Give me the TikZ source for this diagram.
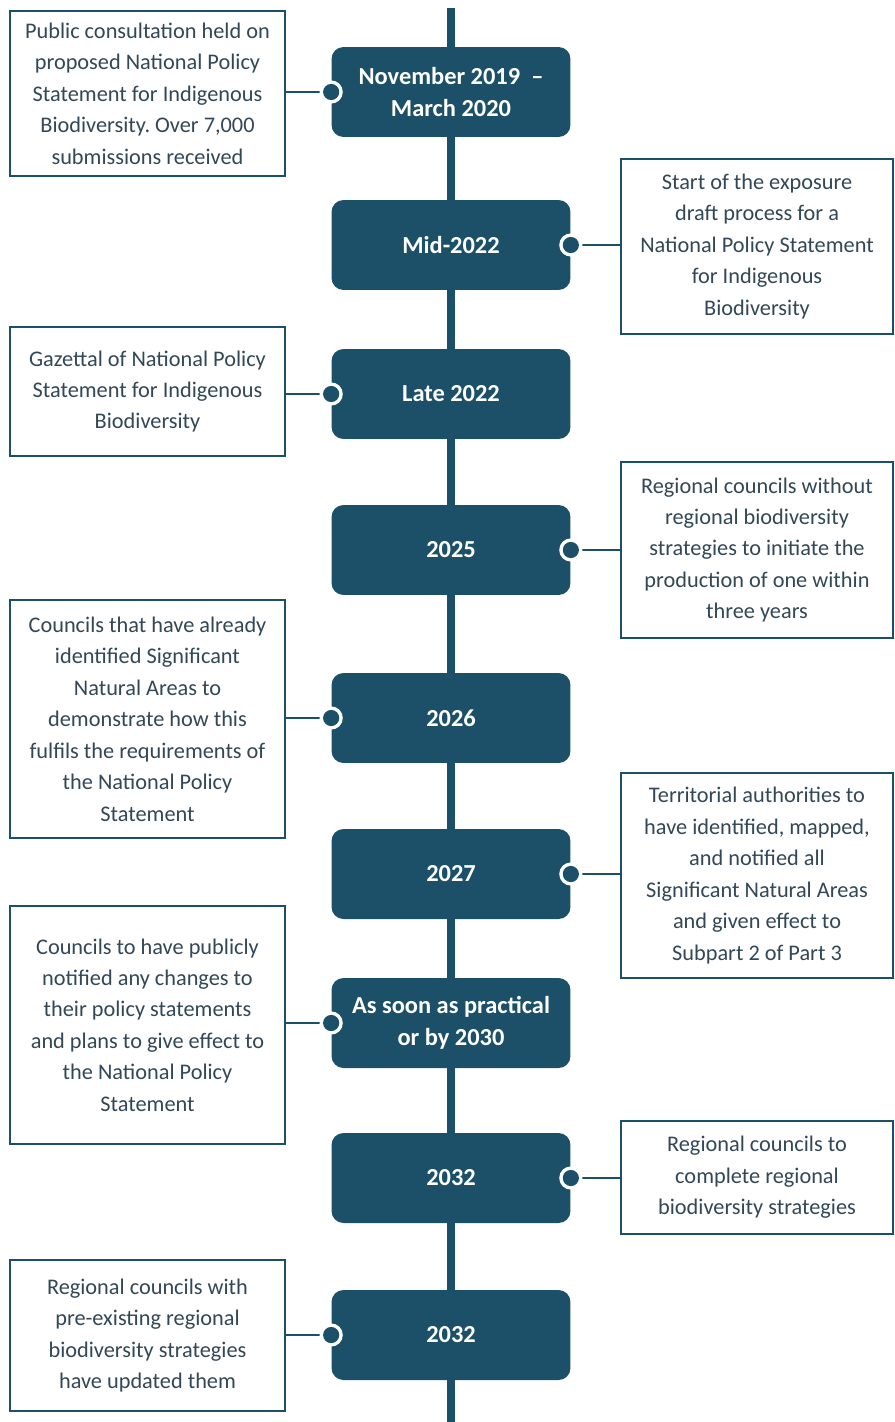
\documentclass[tikz,border=0pt]{standalone}
\usepackage{fontspec}
\setmainfont{Carlito}
\usepackage{tikz}
\usetikzlibrary{positioning}
\frenchspacing

\definecolor{spine}{RGB}{27,80,104}
\definecolor{boxtext}{RGB}{50,72,86}

\tikzset{
  datebox/.style={rectangle, rounded corners=6.8pt, fill=spine, text=white,
    minimum width=4.78cm, minimum height=1.8cm, align=center,
    font=\fontsize{13.9pt}{18pt}\selectfont\bfseries},
  notebox/.style={rectangle, draw=spine, line width=0.9pt, text=boxtext,
    fill=white, align=center, inner sep=0pt,
    font=\fontsize{12.7pt}{17.9pt}\selectfont},
  leftnote/.style={notebox, minimum width=5.5cm},
  rightnote/.style={notebox, minimum width=5.44cm},
  link/.style={draw=spine, line width=1.1pt}
}

% white ring with a dark dot on the edge of a date box
\newcommand{\pin}[1]{%
  \fill[white] (#1) circle (6.6pt);
  \fill[spine] (#1) circle (4.6pt);}

\begin{document}
\begin{tikzpicture}[x=0.02cm, y=-0.02cm]
  \useasboundingbox (0,0) rectangle (894,1422);

  % Time line
  \coordinate (top) at (451,8);
  \coordinate (bottom) at (451,1422);
  \draw[spine, line width=4pt] (top) -- (bottom);

  % Dates
  \node[datebox] (d1) at (451,92) {November 2019 \ --\\March 2020};
  \node[datebox] (d2) at (451,245) {Mid-2022};
  \node[datebox] (d3) at (451,394) {Late 2022};
  \node[datebox] (d4) at (451,550) {2025};
  \node[datebox] (d5) at (451,718) {2026};
  \node[datebox] (d6) at (451,874) {2027};
  \node[datebox] (d7) at (451,1023) {As soon as practical\\or by 2030};
  \node[datebox] (d8) at (451,1178) {2032};
  \node[datebox] (d9) at (451,1335) {2032};

  % Notes on the left
  \node[leftnote, minimum height=3.3cm] (n1) at (147.5,93.5)
    {Public consultation held on\\proposed National Policy\\Statement for Indigenous\\Biodiversity. Over 7,000\\submissions received};
  \node[leftnote, minimum height=2.58cm] (n3) at (147.5,391.5)
    {Gazettal of National Policy\\Statement for Indigenous\\Biodiversity};
  \node[leftnote, minimum height=4.76cm] (n5) at (147.5,719)
    {Councils that have already\\identified Significant\\Natural Areas to\\demonstrate how this\\fulfils the requirements of\\the National Policy\\Statement};
  \node[leftnote, minimum height=4.76cm] (n7) at (147.5,1025)
    {Councils to have publicly\\notified any changes to\\their policy statements\\and plans to give effect to\\the National Policy\\Statement};
  \node[leftnote, minimum height=3.02cm] (n9) at (147.5,1335.5)
    {Regional councils with\\pre-existing regional\\biodiversity strategies\\have updated them};

  % Notes on the right
  \node[rightnote, minimum height=3.5cm] (n2) at (757,246.5)
    {Start of the exposure\\draft process for a\\National Policy Statement\\for Indigenous\\Biodiversity};
  \node[rightnote, minimum height=3.52cm] (n4) at (757,550)
    {Regional councils without\\regional biodiversity\\strategies to initiate the\\production of one within\\three years};
  \node[rightnote, minimum height=4.1cm] (n6) at (757,875.5)
    {Territorial authorities to\\have identified, mapped,\\and notified all\\Significant Natural Areas\\and given effect to\\Subpart 2 of Part 3};
  \node[rightnote, minimum height=2.26cm] (n8) at (757,1177.5)
    {Regional councils to\\complete regional\\biodiversity strategies};

  % Links from notes to dates
  \foreach \n/\d in {1/1,3/3,5/5,7/7,9/9}{
    \draw[link] (n\n.east |- d\d.west) -- (d\d.west);
    \pin{d\d.west}
  }
  \foreach \n/\d in {2/2,4/4,6/6,8/8}{
    \draw[link] (n\n.west |- d\d.east) -- (d\d.east);
    \pin{d\d.east}
  }
\end{tikzpicture}
\end{document}
